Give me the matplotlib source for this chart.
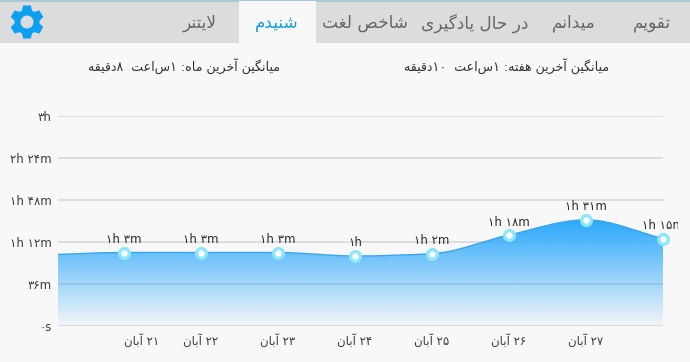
import numpy as np
import matplotlib
matplotlib.use("Agg")
import matplotlib.pyplot as plt
from matplotlib.path import Path
from matplotlib.patches import PathPatch, Rectangle

plt.rcParams['font.family'] = ['DejaVu Sans']

# ---------- data ----------
day_labels = ["۲۱ آبان", "۲۲ آبان", "۲۳ آبان", "۲۴ آبان", "۲۵ آبان", "۲۶ آبان", "۲۷ آبان", ""]
minutes = [63, 63, 63, 60, 62, 78, 91, 75]
value_labels = ["۱h ۳m", "۱h ۳m", "۱h ۳m", "۱h", "۱h ۲m", "۱h ۱۸m", "۱h ۳۱m", "۱h ۱۵m"]
earlier_minutes = 61
y_ticks = [0, 36, 72, 108, 144, 180]
y_tick_labels = ["۰s", "۳۶m", "۱h ۱۲m", "۱h ۴۸m", "۲h ۲۴m", "۳h"]
tabs = ["لایتنر", "شنیدم", "شاخص لغت", "در حال یادگیری", "میدانم", "تقویم"]
tab_x = [200, 277, 365, 475, 574, 652]
month_avg = "میانگین آخرین ماه: ۱ساعت  ۸دقیقه"
week_avg = "میانگین آخرین هفته: ۱ساعت  ۱۰دقیقه"

# ---------- minimal Persian shaping (matplotlib has no text shaping) ----------
FORMS = {
    'ا': (0xFE8D, 0xFE8E), 'آ': (0xFE81, 0xFE82), 'د': (0xFEA9, 0xFEAA), 'ر': (0xFEAD, 0xFEAE),
    'و': (0xFEED, 0xFEEE), '\uFEFB': (0xFEFB, 0xFEFC),
    'ب': (0xFE8F, 0xFE90, 0xFE91, 0xFE92), 'ت': (0xFE95, 0xFE96, 0xFE97, 0xFE98),
    'ح': (0xFEA1, 0xFEA2, 0xFEA3, 0xFEA4),
    'خ': (0xFEA5, 0xFEA6, 0xFEA7, 0xFEA8), 'ش': (0xFEB5, 0xFEB6, 0xFEB7, 0xFEB8),
    'ص': (0xFEB9, 0xFEBA, 0xFEBB, 0xFEBC), 'ع': (0xFEC9, 0xFECA, 0xFECB, 0xFECC),
    'غ': (0xFECD, 0xFECE, 0xFECF, 0xFED0), 'ف': (0xFED1, 0xFED2, 0xFED3, 0xFED4),
    'ق': (0xFED5, 0xFED6, 0xFED7, 0xFED8), 'ل': (0xFEDD, 0xFEDE, 0xFEDF, 0xFEE0),
    'م': (0xFEE1, 0xFEE2, 0xFEE3, 0xFEE4), 'ن': (0xFEE5, 0xFEE6, 0xFEE7, 0xFEE8),
    'ه': (0xFEE9, 0xFEEA, 0xFEEB, 0xFEEC), 'ک': (0xFB8E, 0xFB8F, 0xFB90, 0xFB91),
    'گ': (0xFB92, 0xFB93, 0xFB94, 0xFB95), 'ی': (0xFBFC, 0xFBFD, 0xFBFE, 0xFBFF),
}

def fa(text):
    s = text.replace('لا', '\uFEFB')
    out = []
    for i, c in enumerate(s):
        if c not in FORMS:
            out.append(c)
            continue
        f = FORMS[c]
        prev = s[i - 1] if i else ''
        nxt = s[i + 1] if i + 1 < len(s) else ''
        join_prev = prev in FORMS and len(FORMS[prev]) == 4
        join_next = len(f) == 4 and nxt in FORMS
        if join_prev and join_next:
            k = 3
        elif join_prev:
            k = 1
        elif join_next:
            k = 2
        else:
            k = 0
        out.append(chr(f[k]))
    rev, run = [], []
    for c in reversed(out):
        if c in '۰۱۲۳۴۵۶۷۸۹':
            run.insert(0, c)
        else:
            rev.extend(run)
            run = []
            rev.append(c)
    rev.extend(run)
    return ''.join(rev)

# ---------- monotone cubic path ----------
def monotone_path(x, y):
    x, y = np.asarray(x, float), np.asarray(y, float)
    h = np.diff(x)
    d = np.diff(y) / h
    m = np.zeros_like(y)
    for i in range(1, len(y) - 1):
        if d[i - 1] * d[i] > 0:
            m[i] = 2 * d[i - 1] * d[i] / (d[i - 1] + d[i])
    m[0], m[-1] = d[0], d[-1]
    verts = [(x[0], y[0])]
    codes = [Path.MOVETO]
    for i in range(len(h)):
        verts += [(x[i] + h[i] / 3, y[i] + m[i] * h[i] / 3),
                  (x[i + 1] - h[i] / 3, y[i + 1] - m[i + 1] * h[i] / 3),
                  (x[i + 1], y[i + 1])]
        codes += [Path.CURVE4] * 3
    return verts, codes

W, H = 690, 362
BG = '#f8f8f8'
fig = plt.figure(figsize=(W / 100, H / 100), dpi=100, facecolor=BG)

# ---------- chrome in pixel coordinates ----------
chrome = fig.add_axes([0, 0, 1, 1], zorder=0)
chrome.set_xlim(0, W)
chrome.set_ylim(H, 0)
chrome.axis('off')
chrome.add_patch(Rectangle((0, 2), W, 41, fc='#dcdcdc', ec='none'))
chrome.add_patch(Rectangle((0, 0), W, 2, fc='#a8c8d6', ec='none'))
chrome.add_patch(Rectangle((239, 1), 77, 42, fc=BG, ec='none'))
for name, x in zip(tabs, tab_x):
    chrome.text(x, 23, fa(name), ha='center', va='center', fontsize=12.2,
                color='#0f9fd6' if name == "شنیدم" else '#666666')
chrome.text(184, 66, fa(month_avg), ha='center', va='center', fontsize=9.1, color='#333333')
chrome.text(507, 66, fa(week_avg), ha='center', va='center', fontsize=9.1, color='#333333')

# gear icon
cx, cy = 27, 22
gear = []
for k in range(6):
    a = np.deg2rad(k * 60 - 90)
    for da, r in [(-24, 12.5), (-13, 17), (13, 17), (24, 12.5)]:
        t = a + np.deg2rad(da)
        gear.append((cx + r * np.cos(t), cy + r * np.sin(t)))
t = np.linspace(0, 2 * np.pi, 40)
hole = list(zip(cx + 6.5 * np.cos(t), cy - 6.5 * np.sin(t)))
verts = gear + [gear[0]] + hole
codes = [Path.MOVETO] + [Path.LINETO] * (len(gear) - 1) + [Path.CLOSEPOLY] + \
        [Path.MOVETO] + [Path.LINETO] * (len(hole) - 1)
chrome.add_patch(PathPatch(Path(verts, codes), fc='#0c9ff2', ec='none'))

# ---------- chart ----------
L, R, T, B = 58, 663, 116, 326
ax = fig.add_axes([L / W, 1 - B / H, (R - L) / W, (B - T) / H], zorder=1)
ax.patch.set_alpha(0)
for s in ax.spines.values():
    s.set_visible(False)

xs = np.arange(len(minutes))
px_per_x = 77
xlim = (-(124 - L) / px_per_x, (R - 124) / px_per_x)

ax.set_yticks(y_ticks, y_tick_labels)
ax.set_xticks(xs[:-1], [fa(d) for d in day_labels[:-1]])
ax.tick_params(axis='both', length=0, labelsize=8.5, labelcolor='#3c3c3c')
ax.tick_params(axis='y', pad=4.5)
ax.tick_params(axis='x', pad=5.5)
ax.get_xticklabels()[0].set_ha('left')
ax.grid(axis='y', color='#d8d8d8', lw=1.2, zorder=1)
ax.set_axisbelow(True)

line_v, line_c = monotone_path(np.r_[-1, xs], np.r_[earlier_minutes, minutes])
area_v = line_v + [(xs[-1], 0), (-1, 0), (-1, earlier_minutes), (-1, earlier_minutes)]
area_c = line_c + [Path.LINETO, Path.LINETO, Path.LINETO, Path.CLOSEPOLY]
area = PathPatch(Path(area_v, area_c), fc='none', ec='none', transform=ax.transData)
ax.add_patch(area)

grad = np.zeros((256, 1, 4))
grad[..., 0], grad[..., 1], grad[..., 2] = 41 / 255, 168 / 255, 252 / 255
grad[:, 0, 3] = np.linspace(1.0, 0.03, 256)
im = ax.imshow(grad, extent=(xlim[0], xlim[1], 0, max(minutes)), aspect='auto',
               origin='upper', zorder=2, interpolation='bilinear')
im.set_clip_path(area)

ax.add_patch(PathPatch(Path(line_v, line_c), fc='none', ec='#3aa5ea', lw=1.0, zorder=3))
ax.plot(xs, minutes, ls='none', marker='o', ms=7, mfc='white', mec='#8fe6fb', mew=2.4,
        zorder=5, clip_on=False)
ax.set_xlim(*xlim)
ax.set_ylim(0, 180)

clip = Rectangle((0, 0), 678, H, transform=chrome.transData)
for x, v, lab in zip(xs, minutes, value_labels):
    t = ax.annotate(lab, (x, v), xytext=(0, 6.5), textcoords='offset pixels', ha='center',
                    va='bottom', fontsize=8.5, color='#2c2c2c', zorder=6, annotation_clip=False)
    t.set_clip_path(clip)

fig.savefig('out.png', dpi=100, facecolor=BG)
